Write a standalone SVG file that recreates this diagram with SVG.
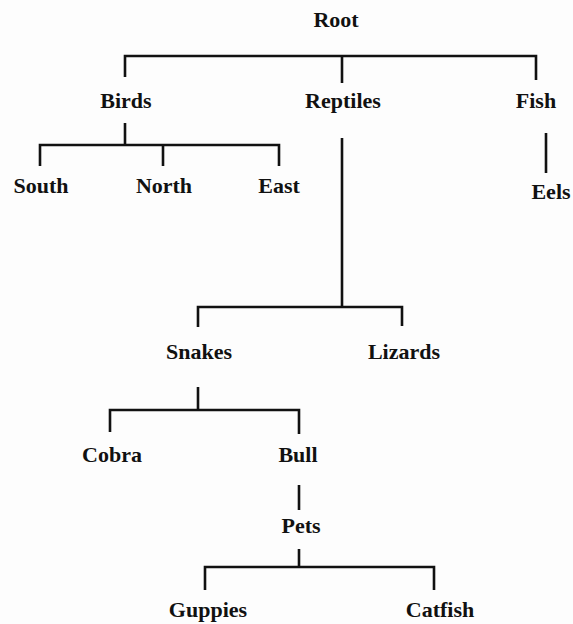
<svg xmlns="http://www.w3.org/2000/svg" width="573" height="624" viewBox="0 0 573 624">
  <style>
    .lbl { font-family: "Liberation Serif", "Times New Roman", serif; font-weight: bold; font-size: 22px; fill: #111; text-anchor: middle; }
    .edge { fill: none; stroke: #111; stroke-width: 2.6; stroke-linecap: butt; stroke-linejoin: miter; }
  </style>
  <rect width="573" height="624" fill="#fdfdfd"/>

  <!-- connectors -->
  <g id="connectors" class="edges">
    <!-- Root -> Birds, Reptiles, Fish -->
    <path class="edge" d="M125 77 V56 H536 V80"/>
    <path class="edge" d="M342 56 V83"/>
    <!-- Birds -> South, North, East -->
    <path class="edge" d="M125 123 V145"/>
    <path class="edge" d="M40 166 V145 H279 V166"/>
    <path class="edge" d="M163 145 V166"/>
    <!-- Fish -> Eels -->
    <path class="edge" d="M546 133 V173"/>
    <!-- Reptiles -> Snakes, Lizards -->
    <path class="edge" d="M342 138 V307"/>
    <path class="edge" d="M198 327 V307 H402 V326"/>
    <!-- Snakes -> Cobra, Bull -->
    <path class="edge" d="M198 387 V410"/>
    <path class="edge" d="M110 432 V410 H299 V434"/>
    <!-- Bull -> Pets -->
    <path class="edge" d="M299 485 V510"/>
    <!-- Pets -> Guppies, Catfish -->
    <path class="edge" d="M299 549 V567"/>
    <path class="edge" d="M205 590 V567 H434 V590"/>
  </g>

  <!-- nodes -->
  <g id="node-root"><text class="lbl" x="336" y="27">Root</text></g>
  <g id="node-birds"><text class="lbl" x="126" y="108">Birds</text></g>
  <g id="node-reptiles"><text class="lbl" x="343" y="108">Reptiles</text></g>
  <g id="node-fish"><text class="lbl" x="536" y="108">Fish</text></g>
  <g id="node-south"><text class="lbl" x="41" y="193">South</text></g>
  <g id="node-north"><text class="lbl" x="164" y="193">North</text></g>
  <g id="node-east"><text class="lbl" x="279" y="193">East</text></g>
  <g id="node-eels"><text class="lbl" x="551" y="199">Eels</text></g>
  <g id="node-snakes"><text class="lbl" x="199" y="359">Snakes</text></g>
  <g id="node-lizards"><text class="lbl" x="404" y="359">Lizards</text></g>
  <g id="node-cobra"><text class="lbl" x="112" y="462">Cobra</text></g>
  <g id="node-bull"><text class="lbl" x="298" y="462">Bull</text></g>
  <g id="node-pets"><text class="lbl" x="301" y="533">Pets</text></g>
  <g id="node-guppies"><text class="lbl" x="208" y="617">Guppies</text></g>
  <g id="node-catfish"><text class="lbl" x="440" y="617">Catfish</text></g>
</svg>
